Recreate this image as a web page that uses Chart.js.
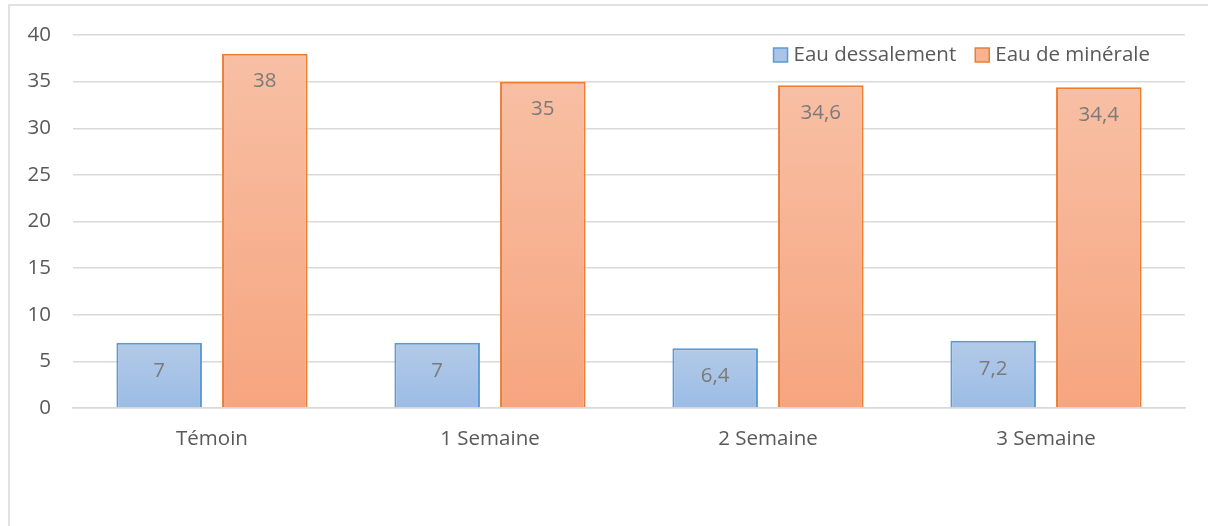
<!DOCTYPE html>
<html>
<head>
<meta charset="utf-8">
<script src="https://cdn.jsdelivr.net/npm/chart.js@4"></script>
<style>
  html, body { margin: 0; padding: 0; background: #fff; }
  #wrap { width: 1208px; height: 526px; position: relative; }
</style>
</head>
<body>
<div id="wrap"><canvas id="chart" width="1208" height="526"></canvas></div>
<script>
// Données du graphique
const categories = ['Témoin', '1 Semaine', '2 Semaine', '3 Semaine'];
const eauDessalement = [7, 7, 6.4, 7.2];
const eauMinerale = [38, 35, 34.6, 34.4];
const seriesLabels = ['Eau dessalement', 'Eau de minérale'];
const yTicks = [0, 5, 10, 15, 20, 25, 30, 35, 40];

const FONT = '"Open Sans", "Liberation Sans", sans-serif';
const FSIZE = 20.5;
const TEXT = '#595959';
const GRID = '#d9d9d9';

// dégradé vertical par barre
function barGradient(top, bottom) {
    return function(context) {
        const chart = context.chart;
        if (!chart.chartArea || context.parsed === undefined) return bottom;
        const y = chart.scales.y;
        const y0 = y.getPixelForValue(context.parsed.y);
        const y1 = y.getPixelForValue(0);
        const g = chart.ctx.createLinearGradient(0, y0, 0, y1);
        g.addColorStop(0, top);
        g.addColorStop(1, bottom);
        return g;
    };
}

// étiquettes de données + légende + cadre
const decorPlugin = {
    id: 'decor',
    afterDatasetsDraw(chart) {
        const ctx = chart.ctx;
        ctx.save();
        ctx.font = FSIZE + 'px ' + FONT;
        ctx.fillStyle = '#7a7a7a';
        ctx.textAlign = 'center';
        ctx.textBaseline = 'middle';
        chart.data.datasets.forEach((ds, i) => {
            const meta = chart.getDatasetMeta(i);
            meta.data.forEach((bar, j) => {
                const txt = String(ds.data[j]).replace('.', ',');
                ctx.fillText(txt, bar.x, bar.y + 28);
            });
        });
        ctx.restore();
    },
    afterDraw(chart) {
        const ctx = chart.ctx;
        ctx.save();
        // cadre extérieur
        ctx.strokeStyle = GRID;
        ctx.lineWidth = 1.5;
        ctx.beginPath();
        ctx.moveTo(9, 526);
        ctx.lineTo(9, 5);
        ctx.lineTo(1208, 5);
        ctx.stroke();

        // légende
        ctx.font = FSIZE + 'px ' + FONT;
        ctx.textBaseline = 'middle';
        ctx.textAlign = 'left';
        const ly = 55;
        let x = 1150;
        const items = chart.data.datasets.slice().reverse();
        items.forEach(ds => {
            const w = ctx.measureText(ds.label).width;
            x -= w;
            ctx.fillStyle = TEXT;
            ctx.fillText(ds.label, x, ly);
            const bx = x - 20;
            ctx.fillStyle = ds.legendFill;
            ctx.fillRect(bx, ly - 7, 14, 14);
            ctx.strokeStyle = ds.borderColor;
            ctx.lineWidth = 1.5;
            ctx.strokeRect(bx, ly - 7, 14, 14);
            x = bx - 19;
        });
        ctx.restore();
    }
};

const chart = new Chart(document.getElementById('chart').getContext('2d'), {
    type: 'bar',
    data: {
        labels: categories,
        datasets: [{
            label: seriesLabels[0],
            data: eauDessalement,
            backgroundColor: barGradient('#b3cae8', '#9bbce5'),
            legendFill: '#a9c4e7',
            borderColor: '#5b9bd5',
            borderWidth: 2,
            barPercentage: 0.81,
            categoryPercentage: 0.76
        }, {
            label: seriesLabels[1],
            data: eauMinerale,
            backgroundColor: barGradient('#f8bfa4', '#f6a57f'),
            legendFill: '#f7b391',
            borderColor: '#ed7d31',
            borderWidth: 2,
            barPercentage: 0.81,
            categoryPercentage: 0.76
        }]
    },
    options: {
        responsive: false,
        animation: false,
        layout: { padding: { left: 0, right: 23, top: 35, bottom: 0 } },
        plugins: {
            legend: { display: false },
            tooltip: { enabled: false }
        },
        scales: {
            x: {
                grid: { display: false, drawTicks: false },
                border: { color: GRID, width: 1.5 },
                ticks: { color: TEXT, font: { family: FONT, size: FSIZE }, padding: 19 },
                afterFit: s => { s.height = 118; }
            },
            y: {
                min: 0,
                max: 40,
                afterBuildTicks: s => { s.ticks = yTicks.map(v => ({ value: v })); },
                grid: { color: GRID, lineWidth: 1.5, drawTicks: false },
                border: { display: false },
                ticks: { color: TEXT, font: { family: FONT, size: FSIZE }, padding: 22 },
                afterFit: s => { s.width = 73; }
            }
        }
    },
    plugins: [decorPlugin]
});
</script>
</body>
</html>
